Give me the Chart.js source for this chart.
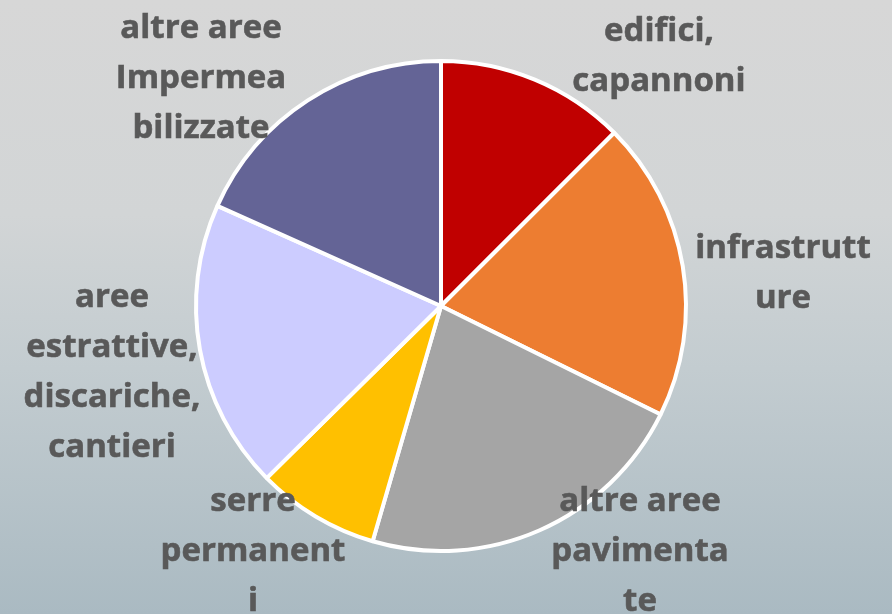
<!DOCTYPE html>
<html>
<head>
<meta charset="utf-8">
<script src="https://cdn.jsdelivr.net/npm/chart.js@4.4.1/dist/chart.umd.min.js"></script>
<style>
    html, body { margin: 0; padding: 0; }
    body {
        width: 892px;
        height: 614px;
        overflow: hidden;
        background: linear-gradient(to bottom, #d7d7d7 0%, #d2d5d6 35%, #c3ccd0 60%, #aabac2 100%);
        position: relative;
        font-family: "Open Sans", Lato, sans-serif;
    }
    #wrap { position: absolute; left: 0; top: 0; width: 892px; height: 614px; }
    .lbl {
        position: absolute;
        transform: translateX(-50%);
        text-align: center;
        white-space: nowrap;
        font-weight: 700;
        font-size: 33px;
        line-height: 50px;
        font-variant-ligatures: none;
        -webkit-text-stroke: 0.6px #595959;
        color: #595959;
    }
</style>
</head>
<body>
<div id="wrap"><canvas id="usoSuoloChart" width="892" height="614"></canvas></div>

<script>
// categorie e quote
const categorie = [
    'edifici, capannoni',
    'infrastrutture',
    'altre aree pavimentate',
    'serre permanenti',
    'aree estrattive, discariche, cantieri',
    'altre aree Impermeabilizzate'
];
const quote = [12.5, 19.8, 22.2, 8.1, 19.1, 18.3];
const colori = ['#C00000', '#ED7D31', '#A5A5A5', '#FFC000', '#CCCCFF', '#646496'];

// etichette come appaiono, spezzate in righe
const righeEtichette = [
    ['edifici,', 'capannoni'],
    ['infrastrutt', 'ure'],
    ['altre aree', 'pavimenta', 'te'],
    ['serre', 'permanent', 'i'],
    ['aree', 'estrattive,', 'discariche,', 'cantieri'],
    ['altre aree', 'Impermea', 'bilizzate']
];
// centro x / top y di ogni etichetta
const posEtichette = [
    [659, 4],
    [783, 221],
    [640, 474],
    [253, 474],
    [112, 270],
    [201, 1]
];

function renderEtichette() {
    const wrap = document.getElementById('wrap');
    righeEtichette.forEach((righe, i) => {
        const el = document.createElement('div');
        el.className = 'lbl';
        el.style.left = posEtichette[i][0] + 'px';
        el.style.top = posEtichette[i][1] + 'px';
        el.innerHTML = righe.join('<br>');
        wrap.appendChild(el);
    });
}

function renderTorta() {
    const ctx = document.getElementById('usoSuoloChart').getContext('2d');
    new Chart(ctx, {
        type: 'pie',
        data: {
            labels: categorie,
            datasets: [{
                data: quote,
                backgroundColor: colori,
                borderColor: '#ffffff',
                borderWidth: 4
            }]
        },
        options: {
            responsive: false,
            animation: false,
            layout: { padding: { left: 0, right: 10, top: 59, bottom: 61 } },
            plugins: {
                legend: { display: false },
                tooltip: { enabled: false }
            }
        }
    });
}

renderTorta();
renderEtichette();
</script>
</body>
</html>
